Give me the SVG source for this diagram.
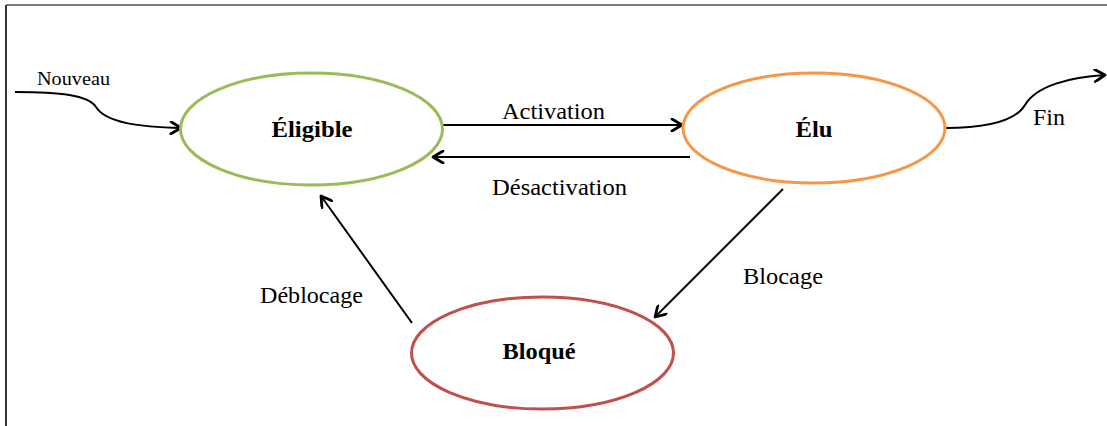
<svg xmlns="http://www.w3.org/2000/svg" width="1107" height="426" viewBox="0 0 1107 426">
<defs>
<style>
.node{fill:#fff;stroke-width:3}
.lbl{font-family:"Liberation Serif","Times New Roman",serif;font-size:23px;fill:#000}
.nlbl{font-family:"Liberation Serif","Times New Roman",serif;font-size:24px;font-weight:bold;fill:#000;text-anchor:middle}
.edge{fill:none;stroke:#000;stroke-width:2}
</style>
<marker id="arr" viewBox="0 0 14 14" refX="12" refY="7" markerWidth="14" markerHeight="14" markerUnits="userSpaceOnUse" orient="auto">
<path d="M2,1 L12,7 L2,13" fill="none" stroke="#000" stroke-width="2.8" stroke-linecap="round" stroke-linejoin="round"/>
</marker>
</defs>
<rect width="1107" height="426" fill="#fff"/>
<line x1="6" y1="5" x2="1107" y2="5" stroke="#7a7a7a" stroke-width="2"/>
<line x1="6" y1="5" x2="6" y2="426" stroke="#333" stroke-width="2"/>
<g id="connectors">
<path class="edge" d="M15,92 C60,92 88,95 96,107 C106,123 140,127 181,128" marker-end="url(#arr)"/>
<path class="edge" d="M443,125 L682,125" marker-end="url(#arr)"/>
<path class="edge" d="M690,157 L433,157" marker-end="url(#arr)"/>
<path class="edge" d="M783,189 L655,317" marker-end="url(#arr)"/>
<path class="edge" d="M412,323 L321,196" marker-end="url(#arr)"/>
<path class="edge" d="M945,128 C985,128 1015,122 1025,105 C1036,86 1070,77 1105,75" marker-end="url(#arr)"/>
<text class="lbl" x="37" y="85" textLength="73" lengthAdjust="spacingAndGlyphs" style="font-size:18px">Nouveau</text>
<text class="lbl" x="502" y="119" textLength="103" lengthAdjust="spacingAndGlyphs">Activation</text>
<text class="lbl" x="492" y="195" textLength="135" lengthAdjust="spacingAndGlyphs">Désactivation</text>
<text class="lbl" x="743" y="284" textLength="80" lengthAdjust="spacingAndGlyphs">Blocage</text>
<text class="lbl" x="260" y="303" textLength="103" lengthAdjust="spacingAndGlyphs">Déblocage</text>
<text class="lbl" x="1033" y="125" textLength="32" lengthAdjust="spacingAndGlyphs">Fin</text>
</g>
<g id="eligible">
<ellipse class="node" cx="311.5" cy="129" rx="131" ry="56" stroke="#9bbb59"/>
<text class="nlbl" x="312" y="137" textLength="81" lengthAdjust="spacingAndGlyphs">Éligible</text>
</g>
<g id="elu">
<ellipse class="node" cx="814" cy="128" rx="131" ry="55" stroke="#f79646"/>
<text class="nlbl" x="814" y="137" textLength="37" lengthAdjust="spacingAndGlyphs">Élu</text>
</g>
<g id="bloque">
<ellipse class="node" cx="542.5" cy="353" rx="131" ry="56" stroke="#c0504d"/>
<text class="nlbl" x="539" y="359" textLength="73" lengthAdjust="spacingAndGlyphs">Bloqué</text>
</g>
</svg>
